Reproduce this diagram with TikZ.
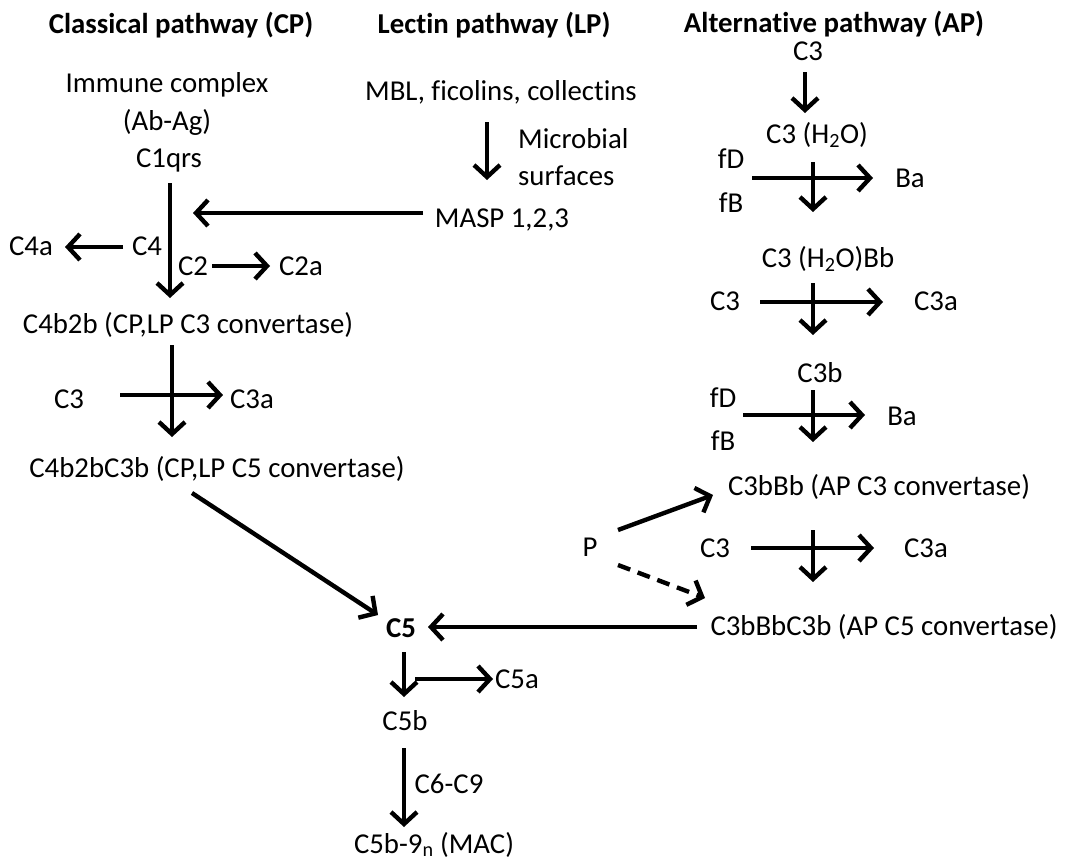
\documentclass[tikz,border=0pt]{standalone}
\usepackage{fontspec}
\setmainfont{Carlito}[Ligatures={NoCommon}]
\usetikzlibrary{arrows.meta,calc}
\tikzset{
  lbl/.style={inner sep=0pt,anchor=base,font=\fontsize{28.8}{34.6}\selectfont},
  lblw/.style={lbl,anchor=base west},
  head/.style={lbl,font=\fontsize{28.8}{34.6}\selectfont\bfseries},
  arr/.style={line width=4.4pt,-{Straight Barb[length=12pt,width=26pt]}},
  darr/.style={arr,dash pattern=on 13pt off 8pt},
}
\begin{document}
\begin{tikzpicture}[x=1pt,y=-1pt]
\useasboundingbox (0,0) rectangle (1065,862);
% headings
\node[head] (hCP) at (181,33) {Classical pathway (CP)};
\node[head] (hLP) at (494,33) {Lectin pathway (LP)};
\node[head] (hAP) at (834,32) {Alternative pathway (AP)};
% classical / lectin
\node[lbl] (imm) at (167,92) {Immune complex};
\node[lbl] (abag) at (167,130) {(Ab-Ag)};
\node[lbl] (c1qrs) at (169,167) {C1qrs};
\node[lbl] (mbl) at (501,100) {MBL, ficolins, collectins};
\node[lblw] (micro) at (518,148) {Microbial};
\node[lblw] (surf) at (518,185) {surfaces};
\node[lbl] (masp) at (502,227) {MASP 1,2,3};
\node[lbl] (c4a) at (31,255) {C4a};
\node[lbl] (c4) at (147,255) {C4};
\node[lbl] (c2) at (193,275) {C2};
\node[lbl] (c2a) at (301,275) {C2a};
\node[lbl] (c4b2b) at (188,333) {C4b2b (CP,LP C3 convertase)};
\node[lbl] (c3L) at (69,408) {C3};
\node[lbl] (c3aL) at (252,408) {C3a};
\node[lbl] (c4b2bc3b) at (217,477) {C4b2bC3b (CP,LP C5 convertase)};
\node[lbl,font=\fontsize{28.8}{34.6}\selectfont\bfseries] (c5) at (401,637) {C5};
\node[lbl] (c5a) at (517,688) {C5a};
\node[lbl] (c5b) at (405,730) {C5b};
\node[lbl] (c6c9) at (449,793) {C6-C9};
\node[lbl] (mac) at (434,853) {C5b-9\textsubscript{n} (MAC)};
% alternative
\node[lbl] (c3top) at (808,60) {C3};
\node[lbl] (c3h2o) at (817,143) {C3 (H\textsubscript{2}O)};
\node[lbl] (fd1) at (731,168) {fD};
\node[lbl] (fb1) at (731,212) {fB};
\node[lbl] (ba1) at (910,187) {Ba};
\node[lbl] (c3h2obb) at (828,267) {C3 (H\textsubscript{2}O)Bb};
\node[lbl] (c3A1) at (725,310) {C3};
\node[lbl] (c3aA1) at (936,310) {C3a};
\node[lbl] (c3b) at (820,382) {C3b};
\node[lbl] (fd2) at (723,407) {fD};
\node[lbl] (fb2) at (723,450) {fB};
\node[lbl] (ba2) at (902,425) {Ba};
\node[lbl] (c3bbb) at (879,495) {C3bBb (AP C3 convertase)};
\node[lbl] (p) at (590,556) {P};
\node[lbl] (c3A2) at (715,557) {C3};
\node[lbl] (c3aA2) at (926,557) {C3a};
\node[lbl] (c3bbbc3b) at (884,635) {C3bBbC3b (AP C5 convertase)};
% connectors: classical / lectin
\draw[arr] ($(c1qrs.base)+(1,16)$) -- ($(c4b2b.base)+(-18,-35)$);
\draw[arr] ($(mbl.base)+(-14,22)$) -- ($(masp.base)+(-15,-47)$);
\draw[arr] ($(masp.base)+(-79,-14)$) -- ($(c1qrs.base)+(24,46)$);
\draw[arr] ($(c4.base)+(-24,-8)$) -- ($(c4a.base)+(34,-8)$);
\draw[arr] ($(c2.base)+(19,-9)$) -- ($(c2a.base)+(-31,-9)$);
\draw[arr] ($(c4b2b.base)+(-16,12)$) -- ($(c4b2bc3b.base)+(-45,-40)$);
\draw[arr] ($(c3L.base)+(51,-13)$) -- ($(c3aL.base)+(-29,-13)$);
\draw[arr] ($(c4b2bc3b.base)+(-25,16)$) -- ($(c5.base)+(-23,-22)$);
\draw[arr] ($(c3bbbc3b.base)+(-187,-8)$) -- ($(c5.base)+(27,-10)$);
\draw[arr] ($(c5.base)+(3,15)$) -- ($(c5b.base)+(-1,-33)$);
\draw[arr] ($(c5.base)+(14,42)$) -- ($(c5a.base)+(-24,-9)$);
\draw[arr] ($(c5b.base)+(-1,18)$) -- ($(mac.base)+(-30,-26)$);
% connectors: alternative
\draw[arr] ($(c3top.base)+(-3,12)$) -- ($(c3h2o.base)+(-12,-30)$);
\draw[arr] ($(fd1.base)+(21,10)$) -- ($(ba1.base)+(-37,-9)$);
\draw[arr] ($(c3h2o.base)+(-4,19)$) -- ($(c3h2obb.base)+(-15,-55)$);
\draw[arr] ($(c3A1.base)+(35,-8)$) -- ($(c3aA1.base)+(-53,-8)$);
\draw[arr] ($(c3h2obb.base)+(-15,16)$) -- ($(c3b.base)+(-7,-47)$);
\draw[arr] ($(fd2.base)+(20,8)$) -- ($(ba2.base)+(-37,-10)$);
\draw[arr] ($(c3b.base)+(-7,8)$) -- ($(c3bbb.base)+(-66,-53)$);
\draw[arr] ($(p.base)+(28,-26)$) -- ($(c3bbb.base)+(-166,0)$);
\draw[darr] ($(p.base)+(28,9)$) -- ($(c3bbbc3b.base)+(-179,-37)$);
\draw[arr] ($(c3A2.base)+(36,-9)$) -- ($(c3aA2.base)+(-52,-9)$);
\draw[arr] ($(c3bbb.base)+(-66,35)$) -- ($(c3bbbc3b.base)+(-71,-53)$);
\end{tikzpicture}
\end{document}
